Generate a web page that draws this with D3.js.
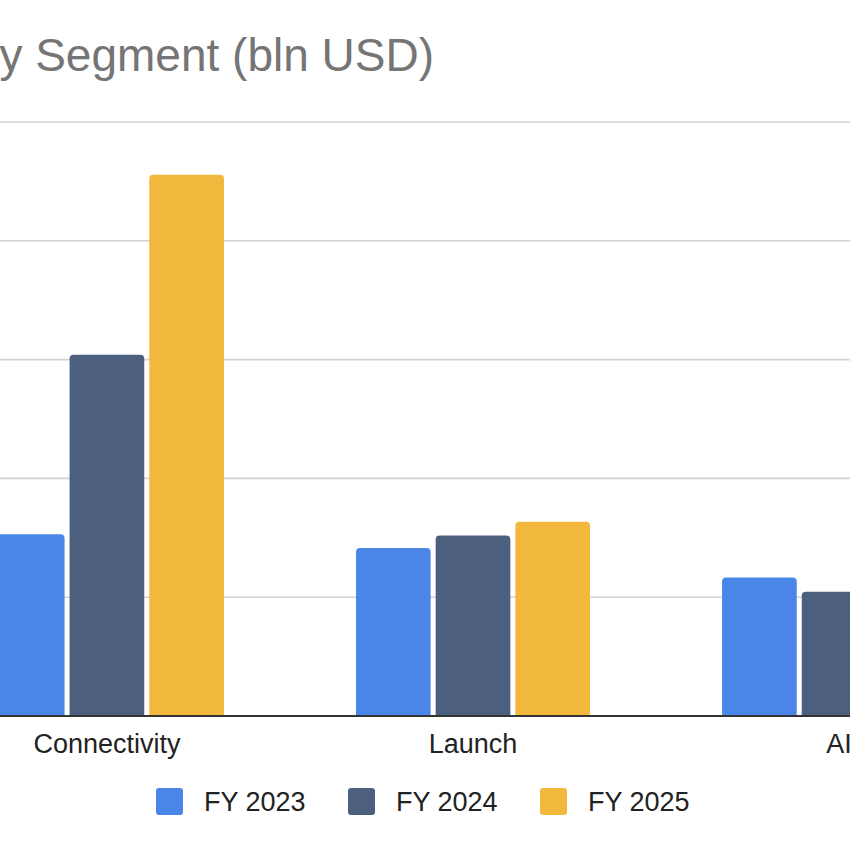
<!DOCTYPE html>
<html>
<head>
<meta charset="utf-8">
<script src="https://cdn.jsdelivr.net/npm/d3@7"></script>
<style>
  html, body { margin: 0; padding: 0; background: #fff; overflow: hidden; }
  svg { display: block; font-family: "Liberation Sans", Arial, Helvetica, sans-serif; }
</style>
</head>
<body>
<svg id="chart" width="850" height="850"></svg>
<script>
// ---- data (bln USD) ----
const titleText = "Revenue by Segment (bln USD)";
const categories = ["Connectivity", "Launch", "AI"];
const series = ["FY 2023", "FY 2024", "FY 2025"];
const fy2023 = [3.06, 2.83, 2.33];
const fy2024 = [6.08, 3.04, 2.09];
const fy2025 = [9.11, 3.27, null]; // AI FY 2025 bar is outside the visible crop
const yTicks = [0, 2, 4, 6, 8, 10];
const colors = ["#4a86e8", "#4d5f7e", "#f2b83d"];

const values = [fy2023, fy2024, fy2025];
const rows = [];
categories.forEach((c, i) => series.forEach((s, j) => {
  if (values[j][i] != null) rows.push({cat: c, ser: s, v: values[j][i], color: colors[j]});
}));

const svg = d3.select("#chart");

const x0 = d3.scaleBand().domain(categories).range([-76, 1022])
  .paddingInner(0.3607).paddingOuter(0.18);
const x1 = d3.scaleBand().domain(series).range([0, x0.bandwidth()]).paddingInner(0.063);
const y = d3.scaleLinear().domain([0, 10]).range([716, 122]);

// title
svg.append("text")
  .attr("x", 434).attr("y", 71)
  .attr("text-anchor", "end")
  .attr("font-size", 46)
  .attr("fill", "#757575")
  .text(titleText);

// gridlines
svg.append("g").selectAll("line")
  .data(yTicks.filter(t => t > 0))
  .join("line")
  .attr("x1", -100).attr("x2", 950)
  .attr("y1", d => y(d)).attr("y2", d => y(d))
  .attr("stroke", "#d2d2d2").attr("stroke-width", 1.6);

// bars with rounded top corners
function barPath(x, yTop, w, yBase, r) {
  r = Math.min(r, w / 2, yBase - yTop);
  return `M${x},${yBase}V${yTop + r}Q${x},${yTop} ${x + r},${yTop}H${x + w - r}Q${x + w},${yTop} ${x + w},${yTop + r}V${yBase}Z`;
}
svg.append("g").selectAll("path")
  .data(rows)
  .join("path")
  .attr("d", d => barPath(x0(d.cat) + x1(d.ser), y(d.v), x1.bandwidth(), y(0), 4))
  .attr("fill", d => d.color);

// baseline
svg.append("line")
  .attr("x1", -100).attr("x2", 950)
  .attr("y1", y(0)).attr("y2", y(0))
  .attr("stroke", "#333").attr("stroke-width", 2);

// category labels
const xAxis = d3.axisBottom(x0).tickSize(0).tickPadding(0);
const gx = svg.append("g").attr("transform", `translate(0, 753)`).call(xAxis);
gx.select(".domain").remove();
gx.selectAll("text")
  .attr("dy", 0)
  .attr("font-size", 27)
  .attr("font-family", "Liberation Sans, Arial, sans-serif")
  .attr("fill", "#222");

// legend
const legendX = d3.scalePoint().domain(series).range([156, 540]);
const lg = svg.append("g").selectAll("g").data(series.map((s, i) => ({s, c: colors[i]})))
  .join("g").attr("transform", d => `translate(${legendX(d.s)}, 788)`);
lg.append("rect").attr("width", 27).attr("height", 27).attr("rx", 3).attr("fill", d => d.c);
lg.append("text").attr("x", 48).attr("y", 23)
  .attr("font-size", 27).attr("fill", "#222").text(d => d.s);
</script>
</body>
</html>
